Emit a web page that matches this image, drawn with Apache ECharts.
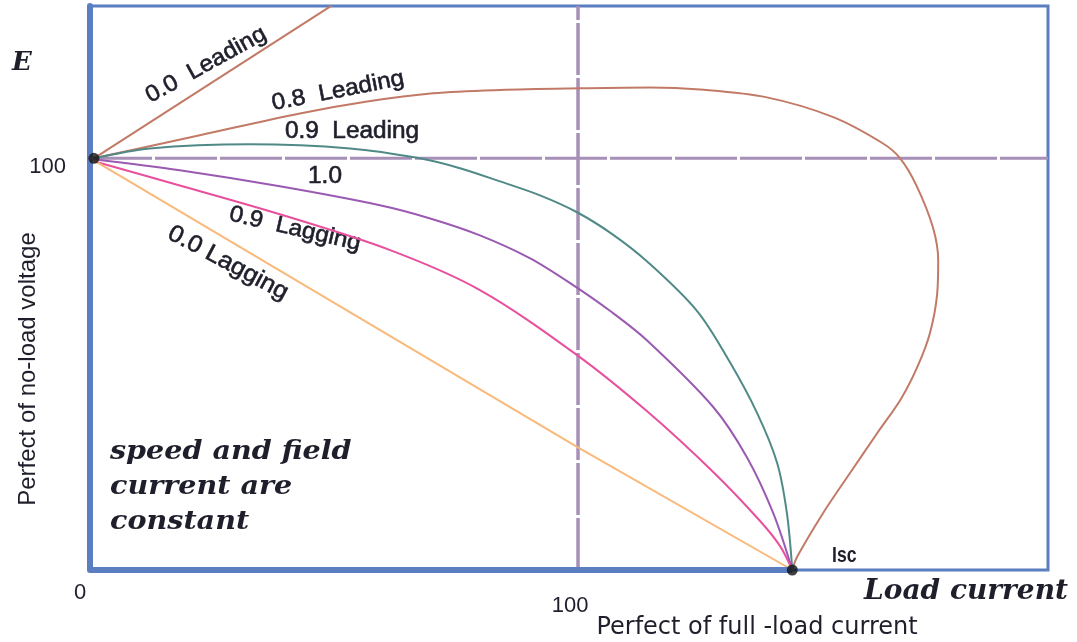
<!DOCTYPE html>
<html>
<head>
<meta charset="utf-8">
<script src="https://cdn.jsdelivr.net/npm/echarts@6/dist/echarts.min.js"></script>
<style>html,body{margin:0;padding:0;background:#fff}#c{width:1077px;height:642px}</style>
</head>
<body>
<div id="c"></div>
<script>
// ---- data (x: % of full-load current, y: % of no-load voltage) ----
const xTickLabels = ['0', '100'];
const yTickLabels = ['100'];
const xMax = 196.3;
const yMax = 137;
const refLevel = 100;        // dashed reference lines
const iscValue = 143.9;      // short-circuit current
const startPoint = [0.8, 100];

const curveNames = ['0.0 Leading', '0.8 Leading', '0.9 Leading', '1.0', '0.9 Lagging', '0.0 Lagging'];
const lead00 = [[0.8, 100], [49.5, 137.1]];
const lead08 = [[0.8, 100], [22.5, 105.6], [43.0, 110.9], [56.8, 113.8], [70.3, 115.8], [84.0, 116.6],
  [100.4, 117.0], [114.8, 117.2], [125.0, 116.7], [138.7, 114.8], [152.3, 110.0], [162.5, 103.6],
  [166.0, 100.0], [169.3, 93.5], [172.7, 83.3], [173.8, 75.2], [173.6, 67.2], [172.1, 57.5],
  [169.6, 49.5], [166.2, 41.6], [161.4, 33.4], [155.7, 23.5], [150.2, 13.8], [144.9, 3.2], [143.9, 0]];
const lead09 = [[0.8, 100], [12.3, 102.4], [32.8, 103.4], [53.3, 102.4], [67.6, 100.0], [75.8, 97.6],
  [84.0, 94.4], [92.2, 91.0], [99.8, 86.9], [107.0, 81.6], [114.1, 75.0], [124.4, 62.9], [131.1, 50.5],
  [136.7, 38.1], [140.8, 26.0], [142.8, 13.8], [143.9, 0]];
const unity = [[0.8, 99.8], [18.4, 97.1], [38.9, 93.2], [59.4, 88.6], [69.7, 85.4], [79.9, 81.3],
  [90.2, 75.7], [99.0, 69.2], [106.6, 62.9], [114.1, 55.8], [127.7, 39.6], [134.6, 27.4],
  [140.0, 13.8], [143.9, 0]];
const lag09 = [[0.8, 99.3], [18.4, 93.4], [38.9, 86.4], [61.5, 77.7], [79.9, 68.0], [99.8, 52.2],
  [114.1, 38.6], [127.7, 23.8], [137.3, 11.9], [141.4, 5.8], [143.9, 0]];
const lag00 = [[0.8, 99.5], [99.8, 29.9], [143.9, 0]];

const curveData = [lead00, lead08, lead09, unity, lag09, lag00];
const curveColors = ['#c27a67', '#c27a67', '#4f8a87', '#9b5ab2', '#e8509e', '#f9b97a'];

const blue = '#5b7ec1';
const dashColor = '#a78fb8';
const txt = '#1f1f2c';

const series = curveData.map((d, i) => ({
  name: curveNames[i], type: 'line', data: d, smooth: d.length > 3 ? 0.33 : false,
  showSymbol: false, symbol: 'none', clip: true,
  lineStyle: { color: curveColors[i], width: 2 }, z: 3
}));
series.unshift(
  { type: 'line', data: [[0, refLevel], [xMax, refLevel]], symbol: 'none',
    lineStyle: { color: dashColor, width: 3, type: [62, 3] }, z: 2, silent: true },
  { type: 'line', data: [[refLevel, 0], [refLevel, yMax]], symbol: 'none',
    lineStyle: { color: dashColor, width: 3.5, type: [52, 3] }, z: 2, silent: true },
  { type: 'line', data: [[0, 0], [iscValue, 0]], symbol: 'none',
    lineStyle: { color: blue, width: 6 }, z: 4, silent: true }
);
series.push({ type: 'scatter', data: [startPoint, [iscValue, 0]], symbolSize: 11,
  itemStyle: { color: '#111' }, z: 6 });

const lbl = (text, x, y, deg, size) => ({
  type: 'text', x: x, y: y, rotation: (deg || 0) * Math.PI / 180, scaleX: 1.06,
  style: { text: text, font: (size || 23) + 'px "Liberation Sans"', fill: txt, stroke: txt, lineWidth: 0.6,
    textAlign: 'center', textVerticalAlign: 'middle', align: 'center', verticalAlign: 'middle' }
});

const chart = echarts.init(document.getElementById('c'), null, { renderer: 'canvas' });
chart.setOption({
  animation: false,
  backgroundColor: '#fff',
  grid: { left: 90, right: 29, top: 6, bottom: 72, show: true, borderColor: blue, borderWidth: 3, backgroundColor: 'transparent' },
  xAxis: {
    type: 'value', min: 0, max: xMax, interval: 100,
    axisLine: { show: false }, axisTick: { show: false }, splitLine: { show: false },
    axisLabel: {
      margin: 12, showMaxLabel: false,
      formatter: v => { const i = Math.round(v / 100); return i === 0 ? '{z|' + xTickLabels[0] + '}' : (i === 1 ? '{h|' + xTickLabels[1] + '}' : ''); },
      rich: {
        z: { fontFamily: 'Liberation Sans', fontSize: 22, color: txt, padding: [0, 20, 0, 0] },
        h: { fontFamily: 'Liberation Sans', fontSize: 22, color: txt, padding: [13, 16, 0, 0] }
      }
    }
  },
  yAxis: {
    type: 'value', min: 0, max: yMax, interval: 100,
    axisLine: { show: true, lineStyle: { color: blue, width: 6 } }, axisTick: { show: false }, splitLine: { show: false },
    axisLabel: {
      margin: 24, showMaxLabel: false,
      formatter: v => (Math.round(v) === 100 ? '{a|' + yTickLabels[0] + '}' : ''),
      rich: { a: { fontFamily: 'Liberation Sans', fontSize: 22, color: txt, padding: [18, 0, 0, 0] } }
    }
  },
  series: series,
  graphic: [
    { type: 'text', x: 28, y: 369, rotation: Math.PI / 2, style: { text: 'Perfect of no-load voltage', font: '24px "Liberation Sans"', fill: txt, textAlign: 'center', textVerticalAlign: 'middle', align: 'center', verticalAlign: 'middle' } },
    { type: 'text', x: 757, y: 628, style: { text: 'Perfect of full -load current', font: '24px "DejaVu Sans"', fill: txt, textAlign: 'center', textVerticalAlign: 'middle', align: 'center', verticalAlign: 'middle' } },
    { type: 'text', x: 22, y: 63, style: { text: 'E', font: 'italic bold 26px "DejaVu Serif"', fill: txt, textAlign: 'center', textVerticalAlign: 'middle', align: 'center', verticalAlign: 'middle' } },
    { type: 'text', x: 966, y: 592, style: { text: 'Load current', font: 'italic bold 28px "DejaVu Serif"', fill: txt, textAlign: 'center', textVerticalAlign: 'middle', align: 'center', verticalAlign: 'middle' } },
    { type: 'text', x: 110, y: 435, scaleX: 1.1, style: { text: 'speed and field\ncurrent are\nconstant', font: 'italic bold 26px "DejaVu Serif"', lineHeight: 35, fill: txt, textAlign: 'left', textVerticalAlign: 'top', align: 'left', verticalAlign: 'top' } },
    lbl('0.0  Leading', 206, 65, 29),
    lbl('0.8  Leading', 338, 91, 11),
    lbl('0.9  Leading', 352, 132, 0),
    lbl('1.0', 325, 177, 0),
    lbl('0.9  Lagging', 295, 229, -13),
    lbl('0.0 Lagging', 228, 263, -28, 24),
    { type: 'text', x: 832, y: 556, scaleX: 0.8, style: { text: 'Isc', font: 'bold 22px "Liberation Sans"', fill: txt, textAlign: 'left', textVerticalAlign: 'middle', align: 'left', verticalAlign: 'middle' } }
  ]
});
</script>
</body>
</html>
